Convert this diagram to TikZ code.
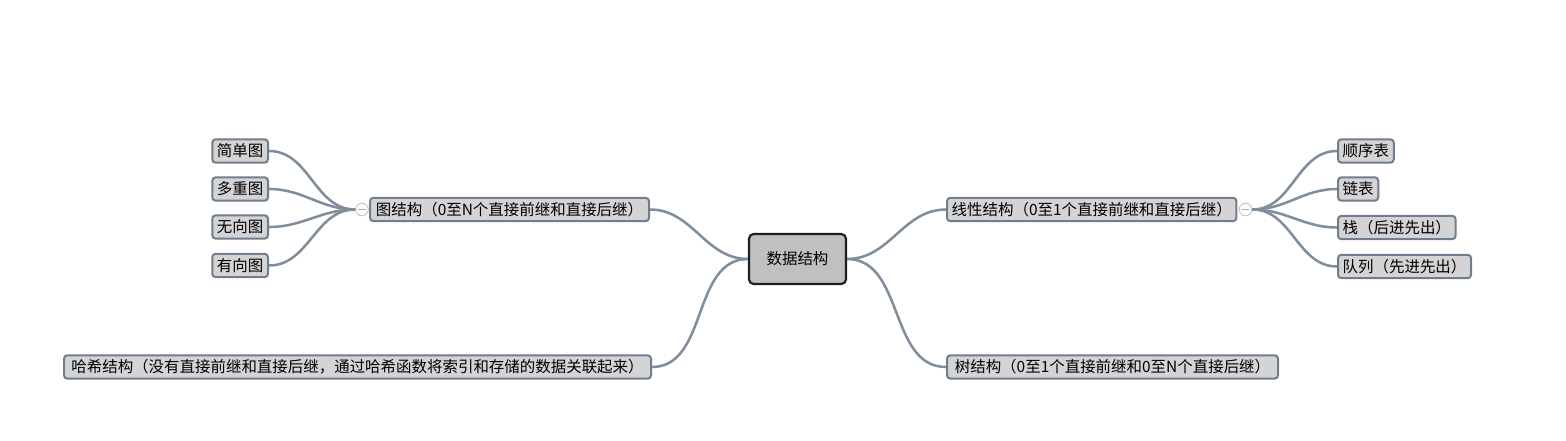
\documentclass[tikz,border=0pt]{standalone}
\usepackage{fontspec}
\setmainfont{Noto Sans CJK SC}
\tikzset{every picture/.style={line width=0.75pt}}
\tikzset{
  topic/.style={draw={rgb, 255:red, 112; green, 125; blue, 140 }, line width=1.5pt, fill={rgb, 255:red, 212; green, 212; blue, 212 }, rounded corners=2.5pt, minimum height=17.5pt, inner xsep=3.5pt, inner ysep=0pt, font=\fontsize{11.6}{13}\selectfont},
  central/.style={draw={rgb, 255:red, 30; green, 30; blue, 30 }, line width=1.6pt, fill={rgb, 255:red, 192; green, 192; blue, 192 }, rounded corners=3.5pt, minimum width=72.75pt, minimum height=37.5pt, font=\fontsize{11.6}{13}\selectfont},
  branch/.style={draw={rgb, 255:red, 128; green, 141; blue, 156 }, line width=1.9pt},
  fold/.style={circle, draw={rgb, 255:red, 200; green, 200; blue, 200 }, fill=white, line width=0.75pt, minimum size=9.5pt, inner sep=0pt},
  foldbar/.style={draw={rgb, 255:red, 170; green, 170; blue, 170 }, line width=0.6pt}
}
\begin{document}
\begin{tikzpicture}[x=0.75pt,y=0.75pt,yscale=-1,xscale=1]
\useasboundingbox (0,0) rectangle (1566,441);

% Center
\node [central] (ds) at (797.5,259) {数据结构};

% Main topics
\node [topic, anchor=west, minimum width=209.25pt] (graph) at (369,209.5) {图结构（0至N个直接前继和直接后继）};
\node [topic, anchor=west, minimum width=440.25pt] (hash) at (63,367) {哈希结构（没有直接前继和直接后继，通过哈希函数将索引和存储的数据关联起来）};
\node [topic, anchor=west, minimum width=216.75pt] (linear) at (946,209.5) {线性结构（0至1个直接前继和直接后继）};
\node [topic, anchor=west, minimum width=248.25pt] (tree) at (946,367) {树结构（0至1个直接前继和0至N个直接后继）};

% Collapse marks
\node [fold] (gfold) at (362,209.5) {};
\draw [foldbar] ([xshift=-2.8pt]gfold.center) -- ([xshift=2.8pt]gfold.center);
\node [fold] (lfold) at (1245.5,209.5) {};
\draw [foldbar] ([xshift=-2.8pt]lfold.center) -- ([xshift=2.8pt]lfold.center);

% Graph children
\node [topic, anchor=east] (simple) at (269,151) {简单图};
\node [topic, anchor=east] (multi) at (269,189) {多重图};
\node [topic, anchor=east] (undirected) at (269,227) {无向图};
\node [topic, anchor=east] (directed) at (269,265.5) {有向图};

% Linear children
\node [topic, anchor=west] (seqlist) at (1337,151) {顺序表};
\node [topic, anchor=west] (linklist) at (1337,189) {链表};
\node [topic, anchor=west] (stack) at (1337,227.5) {栈（后进先出）};
\node [topic, anchor=west] (queue) at (1337,266.5) {队列（先进先出）};

% Connectors
\draw [branch] (ds.west) to[out=180,in=0] (graph.east);
\draw [branch] (ds.west) to[out=180,in=0] (hash.east);
\draw [branch] (ds.east) to[out=0,in=180] (linear.west);
\draw [branch] (ds.east) to[out=0,in=180] (tree.west);

\foreach \leaf in {simple,multi,undirected,directed}
  \draw [branch] (\leaf.east) to[out=0,in=180] (gfold.west);
\foreach \leaf in {seqlist,linklist,stack,queue}
  \draw [branch] (lfold.east) to[out=0,in=180] (\leaf.west);

\end{tikzpicture}
\end{document}
